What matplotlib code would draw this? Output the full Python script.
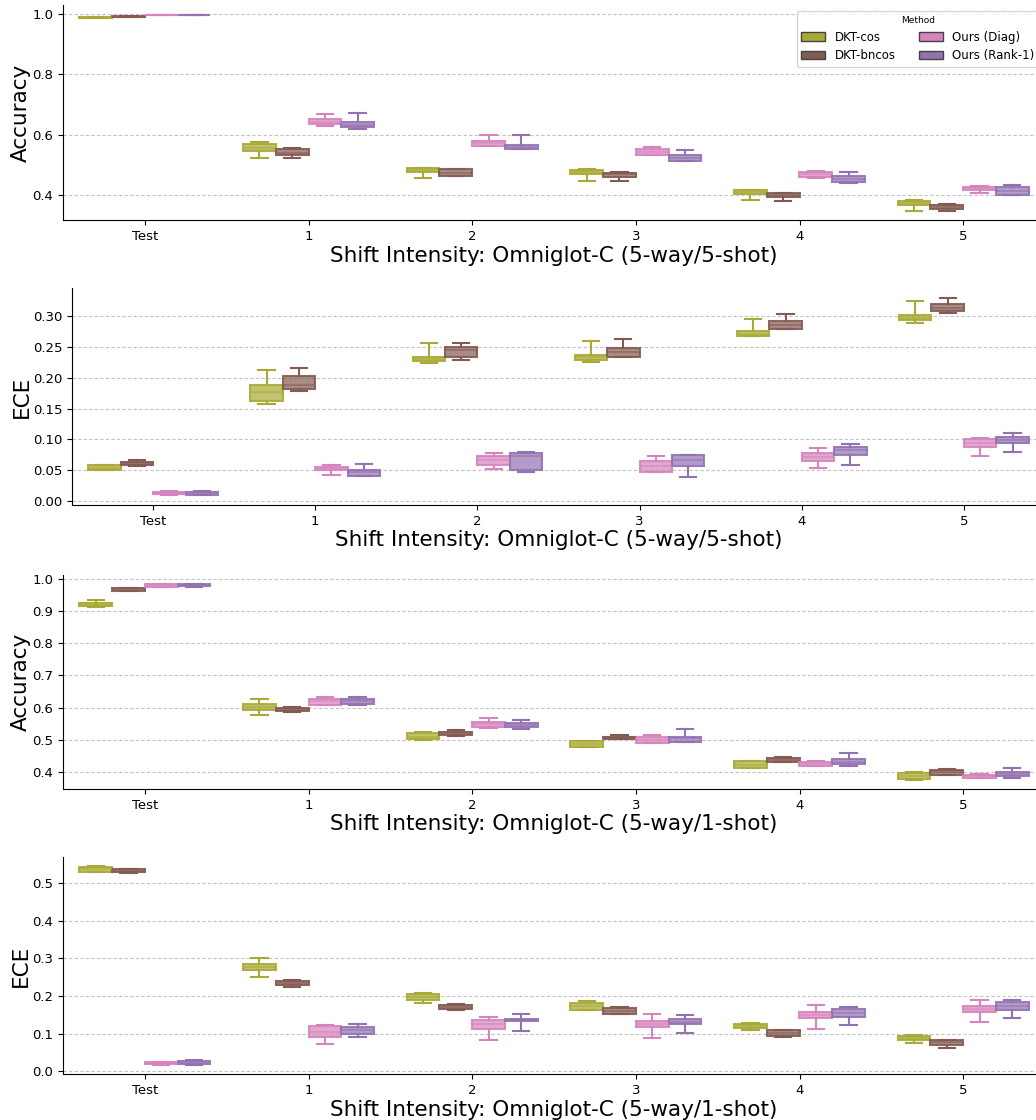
import colorsys
import matplotlib
matplotlib.use("Agg")
import matplotlib.pyplot as plt
import matplotlib.colors as mcolors
from matplotlib.patches import Patch

groups = ["Test", "1", "2", "3", "4", "5"]
methods = ["DKT-cos", "DKT-bncos", "Ours (Diag)", "Ours (Rank-1)"]

# one tuple per group: (whisker low, q1, median, q3, whisker high)
acc5_cos = [(0.986, 0.987, 0.988, 0.989, 0.990), (0.522, 0.547, 0.555, 0.569, 0.577),
            (0.455, 0.475, 0.482, 0.489, 0.491), (0.445, 0.470, 0.476, 0.483, 0.487),
            (0.383, 0.402, 0.409, 0.415, 0.417), (0.347, 0.368, 0.374, 0.380, 0.382)]
acc5_bncos = [(0.989, 0.990, 0.991, 0.992, 0.993), (0.524, 0.532, 0.540, 0.551, 0.555),
              (0.462, 0.464, 0.474, 0.485, 0.486), (0.446, 0.461, 0.469, 0.474, 0.476),
              (0.381, 0.392, 0.399, 0.405, 0.408), (0.347, 0.355, 0.361, 0.368, 0.371)]
acc5_diag = [(0.996, 0.996, 0.997, 0.998, 0.998), (0.629, 0.635, 0.643, 0.651, 0.670),
             (0.562, 0.564, 0.573, 0.580, 0.599), (0.532, 0.532, 0.543, 0.553, 0.558),
             (0.457, 0.459, 0.468, 0.476, 0.479), (0.407, 0.418, 0.423, 0.428, 0.430)]
acc5_rank1 = [(0.996, 0.996, 0.997, 0.998, 0.998), (0.620, 0.625, 0.632, 0.641, 0.672),
              (0.551, 0.551, 0.559, 0.565, 0.600), (0.513, 0.513, 0.522, 0.532, 0.550),
              (0.439, 0.442, 0.453, 0.464, 0.475), (0.399, 0.401, 0.414, 0.426, 0.432)]

ece5_cos = [(0.050, 0.051, 0.0545, 0.058, 0.058), (0.158, 0.162, 0.176, 0.188, 0.213),
            (0.224, 0.227, 0.230, 0.233, 0.256), (0.226, 0.229, 0.233, 0.237, 0.260),
            (0.267, 0.268, 0.271, 0.275, 0.295), (0.289, 0.293, 0.297, 0.302, 0.324)]
ece5_bncos = [(0.057, 0.059, 0.062, 0.064, 0.067), (0.179, 0.182, 0.188, 0.203, 0.216),
              (0.228, 0.233, 0.244, 0.249, 0.256), (0.233, 0.234, 0.242, 0.248, 0.262),
              (0.278, 0.279, 0.285, 0.291, 0.303), (0.304, 0.307, 0.313, 0.319, 0.329)]
ece5_diag = [(0.010, 0.011, 0.012, 0.015, 0.016), (0.043, 0.050, 0.053, 0.0556, 0.058),
             (0.053, 0.059, 0.067, 0.074, 0.078), (0.047, 0.048, 0.057, 0.065, 0.073),
             (0.054, 0.065, 0.072, 0.078, 0.086), (0.074, 0.088, 0.094, 0.1015, 0.102)]
ece5_rank1 = [(0.010, 0.0105, 0.013, 0.0155, 0.016), (0.0415, 0.0415, 0.047, 0.050, 0.060),
              (0.047, 0.050, 0.074, 0.078, 0.079), (0.040, 0.057, 0.067, 0.0745, 0.075),
              (0.059, 0.075, 0.083, 0.088, 0.093), (0.079, 0.094, 0.099, 0.104, 0.110)]

acc1_cos = [(0.911, 0.914, 0.920, 0.926, 0.934), (0.576, 0.591, 0.601, 0.610, 0.627),
            (0.500, 0.502, 0.510, 0.521, 0.524), (0.476, 0.477, 0.487, 0.496, 0.497),
            (0.411, 0.413, 0.423, 0.433, 0.434), (0.374, 0.378, 0.388, 0.397, 0.400)]
acc1_bncos = [(0.962, 0.963, 0.967, 0.971, 0.972), (0.587, 0.588, 0.594, 0.600, 0.602),
              (0.513, 0.515, 0.520, 0.525, 0.530), (0.501, 0.503, 0.507, 0.510, 0.514),
              (0.431, 0.432, 0.438, 0.443, 0.446), (0.389, 0.391, 0.399, 0.406, 0.409)]
acc1_diag = [(0.974, 0.975, 0.979, 0.983, 0.984), (0.607, 0.609, 0.619, 0.627, 0.633),
             (0.536, 0.541, 0.548, 0.554, 0.566), (0.489, 0.490, 0.498, 0.507, 0.514),
             (0.417, 0.418, 0.425, 0.431, 0.434), (0.380, 0.380, 0.387, 0.392, 0.394)]
acc1_rank1 = [(0.975, 0.976, 0.980, 0.984, 0.985), (0.607, 0.610, 0.620, 0.628, 0.634),
              (0.534, 0.538, 0.546, 0.552, 0.560), (0.493, 0.494, 0.504, 0.510, 0.532),
              (0.419, 0.425, 0.432, 0.439, 0.458), (0.380, 0.386, 0.394, 0.401, 0.412)]

ece1_cos = [(0.528, 0.529, 0.536, 0.542, 0.545), (0.250, 0.269, 0.277, 0.286, 0.300),
            (0.181, 0.189, 0.197, 0.206, 0.207), (0.162, 0.164, 0.173, 0.181, 0.186),
            (0.109, 0.114, 0.120, 0.126, 0.129), (0.075, 0.084, 0.089, 0.093, 0.097)]
ece1_bncos = [(0.527, 0.528, 0.532, 0.536, 0.537), (0.224, 0.229, 0.235, 0.240, 0.243),
              (0.163, 0.165, 0.171, 0.176, 0.178), (0.151, 0.153, 0.160, 0.168, 0.170),
              (0.092, 0.093, 0.101, 0.109, 0.110), (0.062, 0.069, 0.077, 0.083, 0.084)]
ece1_diag = [(0.018, 0.019, 0.021, 0.025, 0.026), (0.073, 0.090, 0.105, 0.120, 0.124),
             (0.083, 0.113, 0.125, 0.137, 0.143), (0.089, 0.117, 0.125, 0.134, 0.153),
             (0.113, 0.142, 0.149, 0.158, 0.175), (0.131, 0.157, 0.165, 0.173, 0.190)]
ece1_rank1 = [(0.018, 0.019, 0.022, 0.027, 0.031), (0.091, 0.100, 0.109, 0.119, 0.125),
              (0.106, 0.133, 0.136, 0.140, 0.153), (0.103, 0.125, 0.132, 0.139, 0.149),
              (0.123, 0.144, 0.156, 0.165, 0.171), (0.142, 0.162, 0.173, 0.183, 0.189)]

palette = ["tab:olive", "tab:brown", "tab:pink", "tab:purple"]


def desaturate(color, prop=0.75):
    r, g, b = mcolors.to_rgb(color)
    h, l, s = colorsys.rgb_to_hls(r, g, b)
    return colorsys.hls_to_rgb(h, l, s * prop)


colors = [desaturate(c) for c in palette]

panels = [
    ([acc5_cos, acc5_bncos, acc5_diag, acc5_rank1], "Accuracy",
     "Shift Intensity: Omniglot-C (5-way/5-shot)", (0.317, 1.03), [0.4, 0.6, 0.8, 1.0], "%.1f",
     [63, 5, 220]),
    ([ece5_cos, ece5_bncos, ece5_diag, ece5_rank1], "ECE",
     "Shift Intensity: Omniglot-C (5-way/5-shot)", (-0.006, 0.345),
     [0.0, 0.05, 0.10, 0.15, 0.20, 0.25, 0.30], "%.2f", [72, 288, 505]),
    ([acc1_cos, acc1_bncos, acc1_diag, acc1_rank1], "Accuracy",
     "Shift Intensity: Omniglot-C (5-way/1-shot)", (0.347, 1.0115),
     [0.4, 0.5, 0.6, 0.7, 0.8, 0.9, 1.0], "%.1f", [63, 575, 789]),
    ([ece1_cos, ece1_bncos, ece1_diag, ece1_rank1], "ECE",
     "Shift Intensity: Omniglot-C (5-way/1-shot)", (-0.007, 0.569),
     [0.0, 0.1, 0.2, 0.3, 0.4, 0.5], "%.1f", [63, 857, 1074]),
]

W, H = 1036, 1120
fig = plt.figure(figsize=(W / 100, H / 100), dpi=100)
offsets = [-0.3, -0.1, 0.1, 0.3]

for series, ylab, xlab, ylim, yticks, fmt, (left, top, bottom) in panels:
    right = 1045  # axes run a little past the right edge, as in the original crop
    ax = fig.add_axes([left / W, (H - bottom) / H, (right - left) / W, (bottom - top) / H])
    ax.set_axisbelow(True)
    ax.yaxis.grid(True, linestyle=(0, (3, 2)), color="#c2c2c2", linewidth=0.8)
    for k, data in enumerate(series):
        c = colors[k]
        stats = [dict(whislo=d[0], q1=d[1], med=d[2], q3=d[3], whishi=d[4]) for d in data]
        pos = [i + offsets[k] for i in range(len(groups))]
        ax.bxp(stats, positions=pos, widths=0.2, capwidths=0.1, patch_artist=True,
               showfliers=False, manage_ticks=False,
               boxprops=dict(facecolor=(*c, 0.7), edgecolor=(*c, 0.9), linewidth=1.5),
               whiskerprops=dict(color=c, linewidth=1.5),
               capprops=dict(color=c, linewidth=1.5),
               medianprops=dict(color=(*c, 0.55), linewidth=1.5))
    ax.set_xlim(-0.5, len(groups) - 0.5)
    ax.set_xticks(range(len(groups)))
    ax.set_xticklabels(groups, fontsize=9.5)
    ax.set_ylim(*ylim)
    ax.set_yticks(yticks)
    ax.set_yticklabels([fmt % v for v in yticks], fontsize=9.5)
    ax.set_xlabel(xlab, fontsize=15.5, labelpad=2)
    ax.set_ylabel(ylab, fontsize=15.5, labelpad=1)
    ax.spines["top"].set_visible(False)
    ax.spines["right"].set_visible(False)
    if ylab == "Accuracy" and "5-shot" in xlab:
        handles = [Patch(facecolor=c, edgecolor="#444444", linewidth=1) for c in colors]
        ax.legend(handles, methods, title="Method", ncol=2, loc="upper right",
                  fontsize=8.5, title_fontsize=6.5, framealpha=0.8)

fig.savefig("out.png", dpi=100)
